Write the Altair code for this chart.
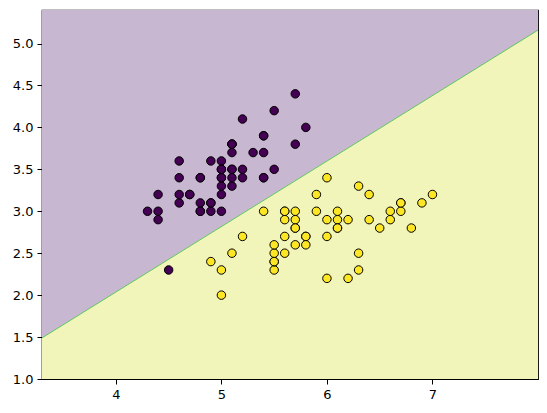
import altair as alt
import pandas as pd

# Iris (first 100 samples): sepal length / sepal width
setosa_x = [5.1,4.9,4.7,4.6,5.0,5.4,4.6,5.0,4.4,4.9,5.4,4.8,4.8,4.3,5.8,5.7,5.4,5.1,5.7,5.1,
            5.4,5.1,4.6,5.1,4.8,5.0,5.0,5.2,5.2,4.7,4.8,5.4,5.2,5.5,4.9,5.0,5.5,4.9,4.4,5.1,
            5.0,4.5,4.4,5.0,5.1,4.8,5.1,4.6,5.3,5.0]
setosa_y = [3.5,3.0,3.2,3.1,3.6,3.9,3.4,3.4,2.9,3.1,3.7,3.4,3.0,3.0,4.0,4.4,3.9,3.5,3.8,3.8,
            3.4,3.7,3.6,3.3,3.4,3.0,3.4,3.5,3.4,3.2,3.1,3.4,4.1,4.2,3.1,3.2,3.5,3.6,3.0,3.4,
            3.5,2.3,3.2,3.5,3.8,3.0,3.8,3.2,3.7,3.3]
versi_x = [7.0,6.4,6.9,5.5,6.5,5.7,6.3,4.9,6.6,5.2,5.0,5.9,6.0,6.1,5.6,6.7,5.6,5.8,6.2,5.6,
           5.9,6.1,6.3,6.1,6.4,6.6,6.8,6.7,6.0,5.7,5.5,5.5,5.8,6.0,5.4,6.0,6.7,6.3,5.6,5.5,
           5.5,6.1,5.8,5.0,5.6,5.7,5.7,6.2,5.1,5.7]
versi_y = [3.2,3.2,3.1,2.3,2.8,2.8,3.3,2.4,2.9,2.7,2.0,3.0,2.2,2.9,2.9,3.1,3.0,2.7,2.2,2.5,
           3.2,2.8,2.5,2.8,2.9,3.0,2.8,3.0,2.9,2.6,2.4,2.4,2.7,2.7,3.0,3.4,3.1,2.3,3.0,2.5,
           2.6,3.0,2.6,2.3,2.7,3.0,2.9,2.9,2.5,2.8]

# decision boundary
boundary_x = [3.3, 8.0]
boundary_y = [1.49, 5.16]
x_domain = [3.3, 8.0]
y_domain = [1.0, 5.4]

pts = pd.DataFrame({
    "x": setosa_x + versi_x,
    "y": setosa_y + versi_y,
    "cls": ["0"] * len(setosa_x) + ["1"] * len(versi_x),
})
bnd = pd.DataFrame({"x": boundary_x, "y": boundary_y,
                    "top": [y_domain[1]] * 2, "bottom": [y_domain[0]] * 2})

xs = alt.Scale(domain=x_domain, nice=False, zero=False)
ys = alt.Scale(domain=y_domain, nice=False, zero=False)
xax = alt.Axis(values=[4, 5, 6, 7], format="d", title=None, grid=False)
yax = alt.Axis(values=[1.0, 1.5, 2.0, 2.5, 3.0, 3.5, 4.0, 4.5, 5.0], format=".1f", title=None, grid=False)

upper = alt.Chart(bnd).mark_area(color="#c8b7d0", opacity=1).encode(
    x=alt.X("x:Q", scale=xs, axis=xax), y=alt.Y("y:Q", scale=ys, axis=yax), y2="top:Q")
lower = alt.Chart(bnd).mark_area(color="#f2f5ba", opacity=1).encode(
    x=alt.X("x:Q", scale=xs), y=alt.Y("y:Q", scale=ys), y2="bottom:Q")
line = alt.Chart(bnd).mark_line(color="#5ec45f", strokeWidth=1).encode(
    x=alt.X("x:Q", scale=xs), y=alt.Y("y:Q", scale=ys))
points = alt.Chart(pts).mark_circle(size=72, opacity=1, stroke="black", strokeWidth=1).encode(
    x=alt.X("x:Q", scale=xs), y=alt.Y("y:Q", scale=ys),
    color=alt.Color("cls:N", scale=alt.Scale(domain=["0", "1"], range=["#440154", "#fde725"]), legend=None))

chart = alt.layer(upper, lower, line, points).properties(
    width=496, height=369,
    autosize=alt.AutoSizeParams(type="none"),
    padding={"left": 34, "top": 2, "right": 1, "bottom": 21},
).configure_view(stroke="black", strokeWidth=1.2).configure_axis(
    domainColor="black", tickColor="black", tickSize=5, labelColor="black",
    labelFont="DejaVu Sans", labelFontSize=13, labelPadding=4, domainWidth=1.2,
)

chart.save("out.html", embed_options={"renderer": "svg", "actions": False})
